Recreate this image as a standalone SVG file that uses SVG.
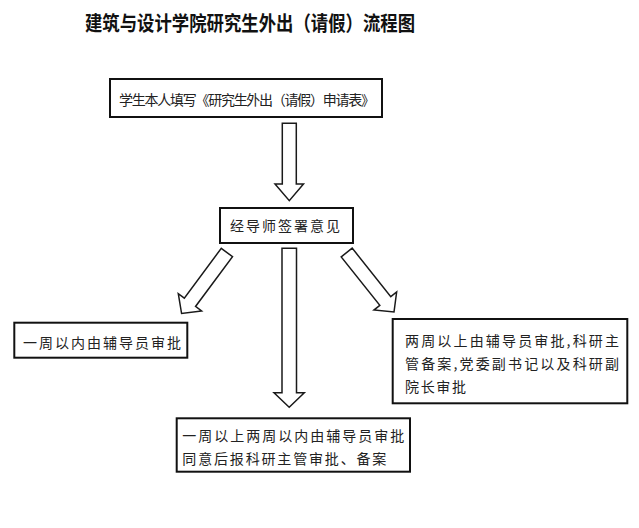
<svg xmlns="http://www.w3.org/2000/svg" width="639" height="528" viewBox="0 0 639 528">
<style>
.box{fill:#fff;stroke:#111;stroke-width:2}
.arrow{fill:#fff;stroke:#1a1a1a;stroke-width:1.5;stroke-linejoin:miter}
.t{font-family:"Noto Sans CJK SC","Noto Sans",sans-serif;font-size:14px;fill:#222;dominant-baseline:central}
.title{font-family:"Noto Sans CJK SC","Noto Sans",sans-serif;font-size:20.5px;font-weight:bold;fill:#111;dominant-baseline:central}
</style>
<rect width="639" height="528" fill="#fff"/>
<text class="title" x="85" y="22" textLength="330" lengthAdjust="spacingAndGlyphs">建筑与设计学院研究生外出（请假）流程图</text>
<g id="connectors">
<polygon class="arrow" points="282.3,123.3 296.3,123.3 296.3,184 303.5,184 289.3,200.7 275,184 282.3,184"/>
<polygon class="arrow" points="282,248.3 296.5,248.3 296.5,392.7 304.3,392.7 289.2,407.3 274,392.7 282,392.7"/>
<polygon class="arrow" transform="translate(226.9,252.5) rotate(36.6)" points="-7,0 7,0 7,62 14.5,62 0,76 -14.5,62 -7,62"/>
<polygon class="arrow" transform="translate(346.7,252.5) rotate(-38.5)" points="-7,0 7,0 7,62 14.5,62 0,76 -14.5,62 -7,62"/>
</g>
<g id="n1">
<rect class="box" x="110" y="79" width="272" height="38"/>
<text class="t" x="119" y="99" font-size="13" textLength="256" lengthAdjust="spacing">学生本人填写《研究生外出（请假）申请表》</text>
</g>
<g id="n2">
<rect class="box" x="220" y="208" width="133" height="35"/>
<text class="t" x="230" y="224.5" textLength="110" lengthAdjust="spacing">经导师签署意见</text>
</g>
<g id="n3">
<rect class="box" x="14.3" y="322.7" width="173" height="35"/>
<text class="t" x="23" y="341.5" textLength="158" lengthAdjust="spacing">一周以内由辅导员审批</text>
</g>
<g id="n4">
<rect class="box" x="176.7" y="418.3" width="233.3" height="53.4"/>
<text class="t" x="182.3" y="435" textLength="222" lengthAdjust="spacing">一周以上两周以内由辅导员审批</text>
<text class="t" x="182.3" y="457.7" textLength="204" lengthAdjust="spacing">同意后报科研主管审批、备案</text>
</g>
<g id="n5">
<rect class="box" x="392.7" y="319" width="234.6" height="84.3"/>
<text class="t" x="405" y="340" textLength="214" lengthAdjust="spacing">两周以上由辅导员审批,科研主</text>
<text class="t" x="405" y="363.3" textLength="214" lengthAdjust="spacing">管备案,党委副书记以及科研副</text>
<text class="t" x="405" y="386" textLength="61" lengthAdjust="spacing">院长审批</text>
</g>
</svg>
